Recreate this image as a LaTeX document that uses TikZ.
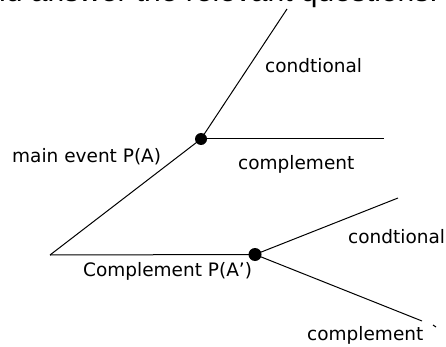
\documentclass[tikz,border=0pt]{standalone}
\usepackage{fontspec}
\setmainfont{DejaVu Sans}
\newfontfamily\headfont{Liberation Sans}
\begin{document}
\begin{tikzpicture}[x=1pt,y=-1pt,
  branch/.style={draw=black,line width=1pt},
  lbl/.style={anchor=base west,inner sep=0pt,font=\fontsize{18.5}{20}\selectfont},
  dotnode/.style={circle,fill=black,inner sep=0pt,minimum size=#1}]
\useasboundingbox (0,0) rectangle (446,347);
\clip (0,0) rectangle (446,347);
\fill[white] (0,0) rectangle (446,347);
% cut-off heading at the top
\node[anchor=base west,inner sep=0pt,font=\headfont\fontsize{30}{32}\selectfont] (head) at (-11,2) {nd answer the relevant questions.};
% tree
\coordinate (root) at (50,255);
\node[dotnode=12pt] (A) at (201,139) {};
\node[dotnode=13pt] (B) at (255,254.5) {};
\coordinate (Acond) at (287,9);
\coordinate (Acomp) at (384,139);
\coordinate (Bcond) at (398,198);
\coordinate (Bcomp) at (422,321);
\coordinate (t1) at (433,325);
\coordinate (t2) at (436,327);
\draw[branch] (root) -- (A.center);
\draw[branch] (root) -- (B.center);
\draw[branch] (A.center) -- (Acond);
\draw[branch] (A.center) -- (Acomp);
\draw[branch] (B.center) -- (Bcond);
\draw[branch] (B.center) -- (Bcomp);
\draw[branch] (t1) -- (t2);
% labels
\node[lbl] (l1) at (265,73) {condtional};
\node[lbl] (l2) at (12,163) {main event P(A)};
\node[lbl] (l3) at (238,170) {complement};
\node[lbl] (l4) at (348,243) {condtional};
\node[lbl] (l5) at (83,276) {Complement P(A')};
\node[lbl] (l6) at (307,340) {complement};
\end{tikzpicture}
\end{document}
